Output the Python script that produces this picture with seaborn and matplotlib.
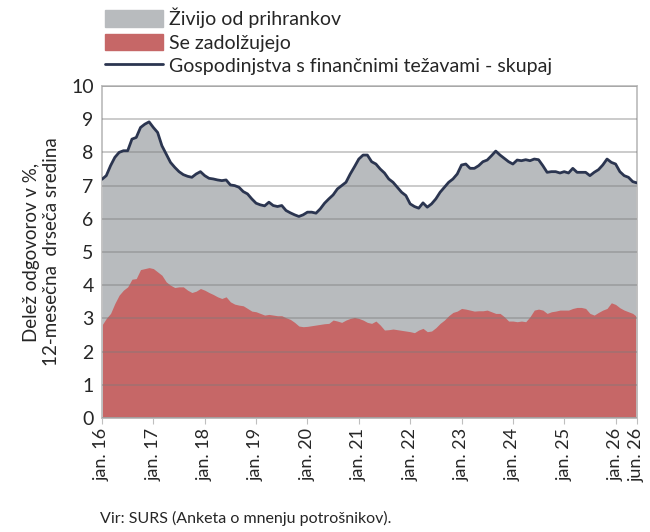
import numpy as np
import pandas as pd
import matplotlib
matplotlib.use("Agg")
import matplotlib.pyplot as plt
import seaborn as sns
from matplotlib.patches import Patch
from matplotlib.lines import Line2D

total = [7.19,7.3,7.6,7.85,8.0,8.05,8.05,8.4,8.45,8.75,8.85,8.92,
 8.75,8.6,8.2,7.95,7.7,7.55,7.42,7.33,7.28,7.25,7.35,7.42,
 7.3,7.22,7.2,7.17,7.15,7.17,7.02,7.0,6.95,6.82,6.75,6.6,
 6.47,6.42,6.39,6.5,6.4,6.37,6.4,6.25,6.18,6.12,6.07,6.12,
 6.2,6.2,6.17,6.3,6.47,6.6,6.72,6.9,7.0,7.1,7.35,7.57,
 7.8,7.92,7.92,7.72,7.65,7.5,7.38,7.2,7.1,6.95,6.8,6.7,
 6.45,6.37,6.32,6.48,6.35,6.45,6.6,6.8,6.95,7.1,7.2,7.35,
 7.62,7.65,7.52,7.52,7.6,7.72,7.77,7.9,8.04,7.92,7.82,7.72,
 7.65,7.77,7.75,7.78,7.75,7.8,7.78,7.6,7.4,7.42,7.42,7.38,
 7.42,7.38,7.52,7.4,7.4,7.4,7.3,7.4,7.48,7.62,7.8,7.7,
 7.65,7.42,7.3,7.25,7.12,7.08]
debt = [2.8,3.0,3.15,3.45,3.7,3.85,3.95,4.18,4.2,4.47,4.5,4.53,
 4.5,4.4,4.3,4.1,4.0,3.93,3.95,3.95,3.85,3.78,3.82,3.9,
 3.85,3.78,3.72,3.65,3.6,3.65,3.5,3.43,3.4,3.38,3.3,3.22,
 3.2,3.15,3.1,3.12,3.1,3.08,3.08,3.02,2.97,2.88,2.77,2.75,
 2.76,2.78,2.8,2.82,2.84,2.85,2.95,2.92,2.88,2.95,3.0,3.03,
 3.0,2.95,2.88,2.85,2.92,2.8,2.65,2.66,2.68,2.66,2.64,2.62,
 2.6,2.57,2.65,2.7,2.6,2.62,2.72,2.85,2.95,3.08,3.18,3.22,
 3.3,3.28,3.25,3.22,3.23,3.23,3.25,3.2,3.15,3.15,3.05,2.92,
 2.92,2.9,2.92,2.9,3.05,3.25,3.28,3.25,3.15,3.2,3.22,3.25,
 3.25,3.25,3.3,3.33,3.33,3.3,3.15,3.1,3.18,3.25,3.3,3.47,
 3.42,3.32,3.25,3.2,3.15,3.05]
tick_pos = [0,12,24,36,48,60,72,84,96,108,120,125]
tick_labels = ["jan. 16","jan. 17","jan. 18","jan. 19","jan. 20","jan. 21",
               "jan. 22","jan. 23","jan. 24","jan. 25","jan. 26","jun. 26"]

df = pd.DataFrame({"m": np.arange(len(total)), "total": total, "debt": debt})

sns.set_style("white")
plt.rcParams['font.family'] = ['Lato', 'DejaVu Sans']
fig = plt.figure(figsize=(6.5, 5.32), dpi=100)
ax = fig.add_axes([102/650, 1-418/532, 535/650, 332/532])

gray = "#B8BBBE"; red = "#C66767"; navy = "#2B3550"
ax.fill_between(df.m, 0, df.total, color=gray, lw=0, zorder=1)
ax.fill_between(df.m, 0, df.debt, color=red, lw=0, zorder=2)
sns.lineplot(data=df, x="m", y="total", color=navy, lw=2, ax=ax, zorder=4)

ax.set_ylim(0, 10)
ax.set_xlim(0, 125)
ax.set_yticks(range(0, 11))
ax.yaxis.grid(True, color="#7A7A7A", alpha=0.42, lw=1.3, zorder=3)
ax.set_axisbelow(False)
ax.set_xticks(tick_pos)
ax.set_xticklabels(tick_labels, rotation=90, fontsize=13)
ax.tick_params(axis="y", labelsize=14, length=0, pad=6)
ax.tick_params(axis="x", length=4, color="#BFBFBF", pad=3, direction="out", bottom=True)
for s in ax.spines.values():
    s.set_color("#BFBFBF"); s.set_linewidth(1.3)
ax.set_xlabel("")
ax.set_ylabel("Delež odgovorov v %,\n12-mesečna  drseča sredina", fontsize=13.5, labelpad=8)

handles = [Patch(color=gray), Patch(color=red), Line2D([], [], color=navy, lw=2)]
labels = ["Živijo od prihrankov", "Se zadolžujejo", "Gospodinjstva s finančnimi težavami - skupaj"]
fig.legend(handles, labels, loc="upper left", bbox_to_anchor=(97/650, 1.0), frameon=False,
           fontsize=14, handlelength=3.0, handleheight=0.9, labelspacing=0.28, handletextpad=0.3,
           borderaxespad=0)
fig.text(100/650, 1-518/532, "Vir: SURS (Anketa o mnenju potrošnikov).", fontsize=11.5, va="center")
fig.savefig("out.png", dpi=100)
